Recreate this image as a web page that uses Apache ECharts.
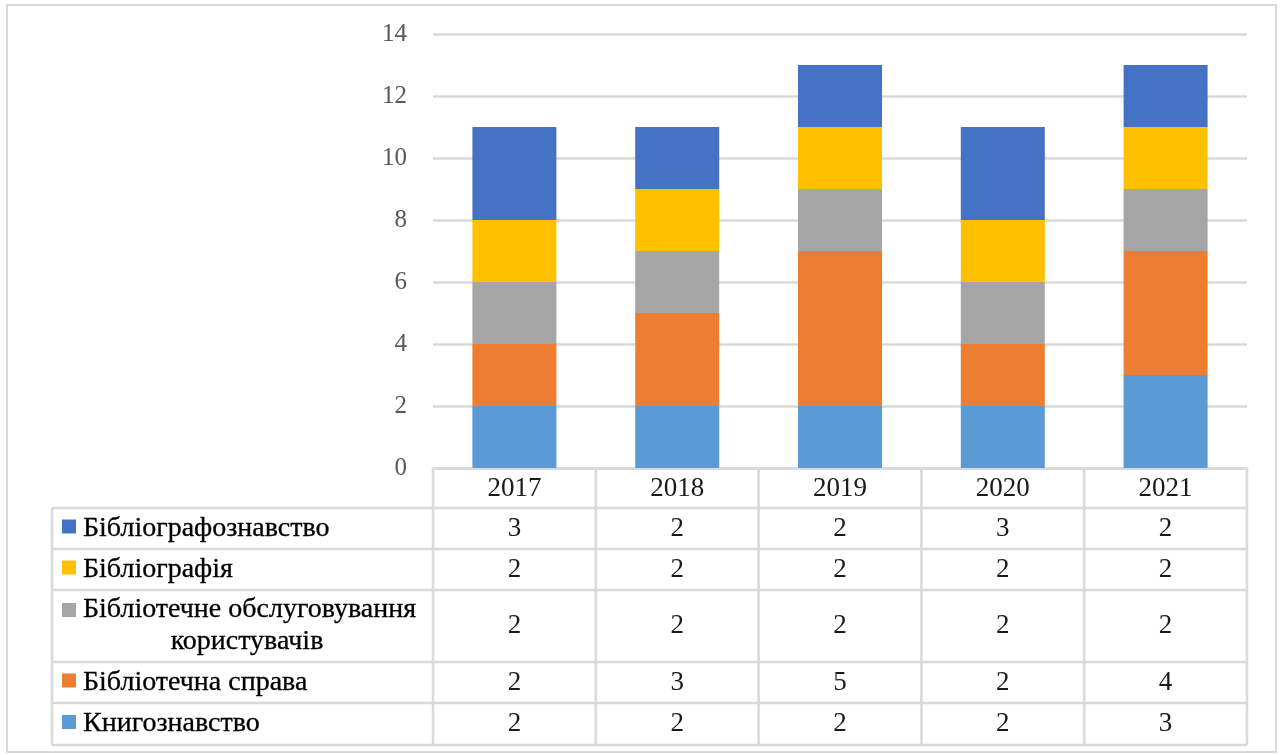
<!DOCTYPE html>
<html>
<head>
<meta charset="utf-8">
<script src="https://cdn.jsdelivr.net/npm/echarts@6/dist/echarts.min.js"></script>
<style>
	html, body { margin: 0; padding: 0; background: #fff; }
	#main { width: 1282px; height: 755px; }
</style>
</head>
<body>
<div id="main"></div>
<script>
// категорії (роки)
var years = ['2017', '2018', '2019', '2020', '2021'];
// ряди даних
var knyhoznavstvo = [2, 2, 2, 2, 3];
var bibliotechnaSprava = [2, 3, 5, 2, 4];
var obsluhovuvannia = [2, 2, 2, 2, 2];
var bibliohrafiia = [2, 2, 2, 2, 2];
var bibliohrafoznavstvo = [3, 2, 2, 3, 2];
// підписи осі Y
var yTicks = [0, 2, 4, 6, 8, 10, 12, 14];

// порядок у стеку знизу вгору
var stackList = [
	{ name: 'Книгознавство', data: knyhoznavstvo, color: '#5B9BD5' },
	{ name: 'Бібліотечна справа', data: bibliotechnaSprava, color: '#ED7D31' },
	{ name: 'Бібліотечне обслуговування користувачів', data: obsluhovuvannia, color: '#A5A5A5' },
	{ name: 'Бібліографія', data: bibliohrafiia, color: '#FFC000' },
	{ name: 'Бібліографознавство', data: bibliohrafoznavstvo, color: '#4472C4' }
];

var FONT = 'Liberation Serif';
var LINE = '#D9D9D9';
var tableLeft = 52;
var rowEdges = [508, 549, 590, 662, 703, 745]; // межі рядків таблиці

var chart = echarts.init(document.getElementById('main'));

var option = {
	animation: false,
	grid: { left: 433, right: 35, top: 34, bottom: 287 },
	xAxis: {
		type: 'category',
		data: years,
		axisLine: { lineStyle: { color: LINE, width: 2.5 } },
		axisTick: { show: false },
		axisLabel: { fontFamily: FONT, fontSize: 27, color: '#1a1a1a', margin: 7 }
	},
	yAxis: {
		type: 'value',
		min: yTicks[0],
		max: yTicks[yTicks.length - 1],
		interval: yTicks[1] - yTicks[0],
		axisLine: { show: false },
		axisTick: { show: false },
		splitLine: { lineStyle: { color: LINE, width: 2.5 } },
		axisLabel: { fontFamily: FONT, fontSize: 25, color: '#595959', margin: 26 }
	},
	series: stackList.map(function(s) {
		return {
			name: s.name,
			type: 'bar',
			stack: 'total',
			barWidth: 84,
			data: s.data,
			itemStyle: { color: s.color }
		};
	})
};
chart.setOption(option);

// стиль підпису ряду
var _labelStyle = function(text, align) {
	return {
		text: text,
		fontFamily: FONT,
		fontSize: 28,
		fill: '#000',
		stroke: '#000',
		lineWidth: 0.3,
		align: align || 'left',
		verticalAlign: 'middle'
	};
};

/**
 * таблиця даних під графіком
 */
var _buildTable = function() {
	var els = [];
	var c0 = chart.convertToPixel({ xAxisIndex: 0 }, 0);
	var c1 = chart.convertToPixel({ xAxisIndex: 0 }, 1);
	var band = c1 - c0;
	var plotLeft = c0 - band / 2;
	var plotRight = plotLeft + band * years.length;
	var line = { stroke: LINE, lineWidth: 2.5 };

	// горизонтальні лінії
	rowEdges.forEach(function(y) {
		els.push({ type: 'line', shape: { x1: tableLeft, y1: y, x2: plotRight, y2: y }, style: line });
	});
	// вертикальні лінії
	els.push({ type: 'line', shape: { x1: tableLeft, y1: rowEdges[0], x2: tableLeft, y2: rowEdges[rowEdges.length - 1] }, style: line });
	for (var k = 0; k <= years.length; k++) {
		var x = plotLeft + band * k;
		els.push({ type: 'line', shape: { x1: x, y1: 468, x2: x, y2: rowEdges[rowEdges.length - 1] }, style: line });
	}

	// рядки таблиці: зверху вниз (зворотний порядок стеку)
	var rows = stackList.slice().reverse();
	rows.forEach(function(s, j) {
		var yc = (rowEdges[j] + rowEdges[j + 1]) / 2;
		var twoLine = s.name.indexOf('обслуговування') >= 0;
		var yKey = twoLine ? yc - 16 : yc - 2;
		els.push({ type: 'rect', shape: { x: 62, y: yKey - 7, width: 14, height: 14 }, style: { fill: s.color } });
		if (twoLine) {
			els.push({ type: 'text', x: 83, y: yc - 16, style: _labelStyle('Бібліотечне обслуговування') });
			els.push({ type: 'text', x: 247, y: yc + 16, style: _labelStyle('користувачів', 'center') });
		} else {
			els.push({ type: 'text', x: 83, y: yc, style: _labelStyle(s.name) });
		}
		s.data.forEach(function(v, i) {
			var cx = chart.convertToPixel({ xAxisIndex: 0 }, i);
			els.push({ type: 'text', x: cx, y: yc, style: { text: String(v), fontFamily: FONT, fontSize: 27, fill: '#1a1a1a', align: 'center', verticalAlign: 'middle' } });
		});
	});

	// зовнішня рамка
	els.push({ type: 'rect', shape: { x: 7, y: 5, width: 1269, height: 747 }, style: { fill: 'none', stroke: LINE, lineWidth: 2 } });

	chart.setOption({ graphic: { elements: els } });
};
_buildTable();
</script>
</body>
</html>
